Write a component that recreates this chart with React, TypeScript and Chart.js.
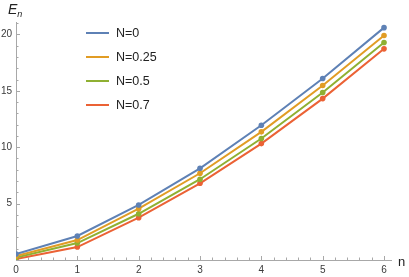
import React, { useEffect, useRef } from "react";
import { Chart, registerables } from "chart.js";

Chart.register(...registerables);

const nValues = [0, 1, 2, 3, 4, 5, 6];
const seriesLabels = ["N=0", "N=0.25", "N=0.5", "N=0.7"];
const eN0 = [0.53, 2.13, 4.88, 8.13, 11.95, 16.09, 20.6];
const eN025 = [0.35, 1.77, 4.55, 7.69, 11.36, 15.47, 19.9];
const eN05 = [0.22, 1.5, 4.1, 7.16, 10.77, 14.85, 19.28];
const eN07 = [0.09, 1.15, 3.75, 6.8, 10.32, 14.31, 18.72];
const seriesColors = ["#5E81B5", "#E19C24", "#8FB032", "#EB6235"];
const xTicks = [0, 1, 2, 3, 4, 5, 6];
const yTicks = [5, 10, 15, 20];

const allSeries = [eN0, eN025, eN05, eN07];

const FONT = "'Liberation Sans', Arial, sans-serif";
const AXIS_COLOR = "#a8a8a8";

const inwardTicks = {
  id: "inwardTicks",
  beforeDatasetsDraw(chart: any) {
    const { ctx, chartArea } = chart;
    const xs = chart.scales.x;
    const ys = chart.scales.y;
    ctx.save();
    ctx.strokeStyle = AXIS_COLOR;
    ctx.lineWidth = 1;
    // axis lines
    ctx.beginPath();
    ctx.moveTo(chartArea.left + 0.5, chartArea.top);
    ctx.lineTo(chartArea.left + 0.5, chartArea.bottom);
    ctx.moveTo(chartArea.left, chartArea.bottom + 0.5);
    ctx.lineTo(chartArea.right, chartArea.bottom + 0.5);
    ctx.stroke();
    // x ticks
    ctx.beginPath();
    for (let i = 0; i <= 30; i++) {
      const v = i * 0.2;
      if (v > xs.max) break;
      const px = Math.round(xs.getPixelForValue(v)) + 0.5;
      const major = i % 5 === 0;
      const len = major ? 4 : 2.5;
      ctx.moveTo(px, chartArea.bottom);
      ctx.lineTo(px, chartArea.bottom - len);
    }
    // y ticks
    for (let v = 1; v <= ys.max; v += 1) {
      const py = Math.round(ys.getPixelForValue(v)) + 0.5;
      const major = v % 5 === 0;
      const len = major ? 4 : 2.5;
      ctx.moveTo(chartArea.left, py);
      ctx.lineTo(chartArea.left + len, py);
    }
    ctx.stroke();
    ctx.restore();
  },
};

export default function App() {
  const canvasRef = useRef<HTMLCanvasElement | null>(null);

  useEffect(() => {
    const canvas = canvasRef.current;
    if (!canvas) return;
    const chart = new Chart(canvas, {
      type: "line",
      data: {
        datasets: allSeries.map((vals, i) => ({
          label: seriesLabels[i],
          data: nValues.map((n, j) => ({ x: n, y: vals[j] })),
          borderColor: seriesColors[i],
          backgroundColor: seriesColors[i],
          borderWidth: 2,
          pointRadius: 2.8,
          pointBorderWidth: 0,
          pointHoverRadius: 3,
          tension: 0,
          fill: false,
        })),
      },
      options: {
        animation: false,
        responsive: false,
        devicePixelRatio: 1,
        layout: { padding: { top: 22, right: 17, left: 0, bottom: 0 } },
        plugins: {
          legend: { display: false },
          tooltip: { enabled: false },
        },
        scales: {
          x: {
            type: "linear",
            min: 0,
            max: 6.13,
            grid: { display: false, drawTicks: false },
            border: { display: false },
            afterBuildTicks: (scale: any) => {
              scale.ticks = xTicks.map((v) => ({ value: v }));
            },
            afterFit: (scale: any) => {
              scale.height = 17;
            },
            ticks: {
              padding: 4,
              color: "#3a3a3a",
              font: { family: FONT, size: 10 },
              maxRotation: 0,
              callback: (v: any) => String(v),
            },
          },
          y: {
            type: "linear",
            min: 0,
            max: 21.1,
            grid: { display: false, drawTicks: false },
            border: { display: false },
            afterBuildTicks: (scale: any) => {
              scale.ticks = yTicks.map((v) => ({ value: v }));
            },
            afterFit: (scale: any) => {
              scale.width = 16;
            },
            ticks: {
              padding: 4,
              color: "#3a3a3a",
              font: { family: FONT, size: 10 },
              callback: (v: any) => String(v),
            },
          },
        },
      },
      plugins: [inwardTicks],
    } as any);
    return () => chart.destroy();
  }, []);

  const legendTops = [33, 57, 81, 105];

  return (
    <div
      style={{
        position: "fixed",
        left: 0,
        top: 0,
        width: 409,
        height: 277,
        background: "#fff",
        fontFamily: FONT,
      }}
    >
      <canvas ref={canvasRef} width={409} height={277} style={{ width: 409, height: 277, display: "block" }} />
      <div
        style={{
          position: "absolute",
          left: 8,
          top: 1,
          fontSize: 14,
          fontStyle: "italic",
          color: "#222",
          lineHeight: "16px",
          whiteSpace: "nowrap",
        }}
      >
        E<sub style={{ fontSize: 9, verticalAlign: "-3px" }}>n</sub>
      </div>
      <div
        style={{
          position: "absolute",
          left: 398,
          top: 255,
          fontSize: 13,
          color: "#222",
          lineHeight: "14px",
        }}
      >
        n
      </div>
      {seriesLabels.map((lab, i) => (
        <div
          key={lab}
          style={{
            position: "absolute",
            left: 86,
            top: legendTops[i] - 8,
            height: 16,
            display: "flex",
            alignItems: "center",
            whiteSpace: "nowrap",
          }}
        >
          <div style={{ width: 23, height: 2, background: seriesColors[i] }} />
          <span style={{ marginLeft: 7, fontSize: 12.5, color: "#222" }}>{lab}</span>
        </div>
      ))}
    </div>
  );
}
